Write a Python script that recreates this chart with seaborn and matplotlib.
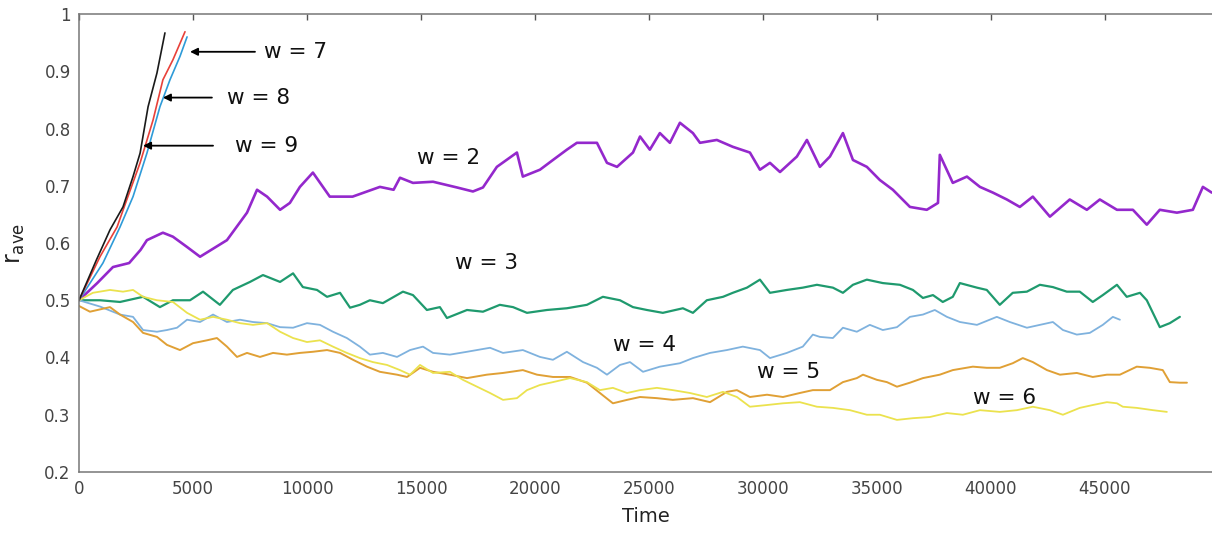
import matplotlib
matplotlib.use("Agg")
import matplotlib.pyplot as plt
import seaborn as sns
import numpy as np

# ---------------- data (time in units of 1000 steps) ----
w2_t = [0, 0.8, 1.49, 2.2, 2.7, 2.98, 3.68, 4.12, 4.74, 5.31, 6.49, 7.37, 7.81, 8.25, 8.82,
        9.25, 9.69, 10.26, 11.0, 12.0, 13.2, 13.8, 14.08, 14.65, 15.53, 16.58, 17.28, 17.72,
        18.33, 19.21, 19.47, 20.22, 20.79, 21.40, 21.84, 22.72, 23.16, 23.60, 24.30, 24.61,
        25.04, 25.48, 25.92, 26.36, 26.93, 27.24, 27.98, 28.68, 29.43, 29.87, 30.31, 30.75,
        31.49, 31.93, 32.50, 32.94, 33.51, 33.95, 34.56, 35.13, 35.70, 36.45, 37.19, 37.68,
        37.76, 38.33, 38.95, 39.52, 40.09, 40.70, 41.27, 41.84, 42.59, 43.46, 44.21, 44.78,
        45.53, 46.23, 46.84, 47.41, 48.16, 48.86, 49.30, 49.69]
w2_r = [0.50, 0.53, 0.558, 0.565, 0.588, 0.605, 0.618, 0.611, 0.593, 0.576, 0.605, 0.653,
        0.693, 0.681, 0.658, 0.670, 0.698, 0.723, 0.681, 0.681, 0.698, 0.693, 0.714, 0.705,
        0.707, 0.697, 0.690, 0.697, 0.733, 0.758, 0.716, 0.728, 0.745, 0.763, 0.775, 0.775,
        0.740, 0.733, 0.758, 0.786, 0.763, 0.792, 0.775, 0.810, 0.792, 0.775, 0.780, 0.768,
        0.758, 0.728, 0.740, 0.724, 0.751, 0.780, 0.733, 0.751, 0.792, 0.745, 0.733, 0.710,
        0.693, 0.663, 0.658, 0.670, 0.754, 0.705, 0.716, 0.698, 0.688, 0.676, 0.663, 0.681,
        0.646, 0.676, 0.658, 0.676, 0.658, 0.658, 0.632, 0.658, 0.653, 0.658, 0.698, 0.688]

w3_t = [0, 0.92, 1.80, 2.81, 3.55, 4.12, 4.87, 5.44, 6.18, 6.75, 7.50, 8.07, 8.82, 9.39, 9.82,
        10.44, 10.88, 11.45, 11.89, 12.32, 12.76, 13.33, 14.21, 14.65, 15.26, 15.83, 16.14,
        17.02, 17.72, 18.46, 19.04, 19.65, 20.53, 21.40, 22.28, 22.98, 23.73, 24.30, 24.91,
        25.61, 26.49, 26.93, 27.54, 28.25, 28.68, 29.30, 29.87, 30.31, 31.05, 31.75, 32.37,
        33.07, 33.51, 33.95, 34.56, 35.26, 36.01, 36.58, 37.02, 37.46, 37.89, 38.33, 38.64,
        39.39, 39.82, 40.39, 40.96, 41.58, 42.15, 42.72, 43.33, 43.90, 44.47, 44.91, 45.53,
        45.96, 46.54, 46.84, 47.41, 47.85, 48.29]
w3_r = [0.50, 0.50, 0.497, 0.506, 0.488, 0.50, 0.50, 0.515, 0.492, 0.518, 0.532, 0.544, 0.532,
        0.547, 0.523, 0.518, 0.506, 0.513, 0.487, 0.492, 0.50, 0.495, 0.515, 0.509, 0.483,
        0.488, 0.469, 0.483, 0.480, 0.492, 0.488, 0.478, 0.483, 0.486, 0.492, 0.506, 0.50,
        0.488, 0.483, 0.478, 0.486, 0.478, 0.50, 0.506, 0.513, 0.522, 0.536, 0.513, 0.518,
        0.522, 0.527, 0.522, 0.513, 0.527, 0.536, 0.530, 0.527, 0.518, 0.504, 0.509, 0.497,
        0.506, 0.530, 0.522, 0.518, 0.492, 0.513, 0.515, 0.527, 0.523, 0.515, 0.515, 0.497,
        0.509, 0.527, 0.506, 0.513, 0.50, 0.453, 0.460, 0.471]

w4_t = [0, 0.92, 1.80, 2.37, 2.81, 3.42, 3.86, 4.30, 4.74, 5.31, 5.88, 6.49, 7.06, 7.63, 8.25,
        8.82, 9.39, 10.0, 10.57, 11.14, 11.75, 12.32, 12.76, 13.33, 13.95, 14.52, 15.09, 15.53,
        16.27, 17.02, 18.03, 18.60, 19.47, 20.22, 20.79, 21.40, 22.11, 22.72, 23.16, 23.73,
        24.17, 24.74, 25.48, 26.36, 26.93, 27.68, 28.42, 29.12, 29.87, 30.31, 31.05, 31.75,
        32.19, 32.50, 33.07, 33.51, 34.12, 34.69, 35.26, 35.88, 36.45, 37.02, 37.54, 38.07,
        38.64, 39.39, 40.26, 40.83, 41.58, 42.15, 42.72, 43.16, 43.77, 44.34, 44.91, 45.35,
        45.66]
w4_r = [0.50, 0.489, 0.475, 0.471, 0.448, 0.445, 0.448, 0.452, 0.466, 0.462, 0.475, 0.462,
        0.466, 0.462, 0.460, 0.453, 0.452, 0.460, 0.457, 0.445, 0.434, 0.419, 0.405, 0.408,
        0.401, 0.413, 0.419, 0.408, 0.405, 0.410, 0.417, 0.408, 0.413, 0.401, 0.396, 0.410,
        0.392, 0.382, 0.370, 0.387, 0.392, 0.375, 0.384, 0.390, 0.399, 0.408, 0.413, 0.419,
        0.413, 0.399, 0.408, 0.419, 0.440, 0.436, 0.434, 0.452, 0.445, 0.457, 0.448, 0.453,
        0.471, 0.475, 0.483, 0.471, 0.462, 0.457, 0.471, 0.462, 0.452, 0.457, 0.462, 0.448,
        0.440, 0.443, 0.457, 0.471, 0.466]

w5_t = [0, 0.48, 1.36, 1.80, 2.37, 2.81, 3.42, 3.86, 4.43, 5.0, 5.61, 6.05, 6.49, 6.93, 7.37,
        7.94, 8.51, 9.12, 9.69, 10.26, 10.88, 11.45, 12.02, 12.63, 13.20, 13.95, 14.39, 14.96,
        15.53, 16.27, 17.02, 17.89, 18.60, 19.47, 20.09, 20.79, 21.54, 22.28, 22.85, 23.42,
        24.04, 24.61, 25.35, 26.05, 26.93, 27.68, 28.42, 28.86, 29.43, 30.18, 30.88, 31.62,
        32.19, 32.94, 33.51, 34.12, 34.39, 35.0, 35.44, 35.88, 36.45, 37.02, 37.76, 38.33,
        39.21, 39.82, 40.39, 40.96, 41.40, 41.84, 42.46, 43.03, 43.77, 44.47, 45.09, 45.66,
        46.40, 46.97, 47.54, 47.85, 48.29, 48.60]
w5_r = [0.49, 0.48, 0.488, 0.475, 0.462, 0.443, 0.436, 0.422, 0.413, 0.425, 0.430, 0.434,
        0.419, 0.401, 0.408, 0.401, 0.408, 0.405, 0.408, 0.410, 0.413, 0.408, 0.396, 0.384,
        0.375, 0.370, 0.366, 0.382, 0.375, 0.370, 0.364, 0.370, 0.373, 0.378, 0.370, 0.366,
        0.366, 0.356, 0.338, 0.320, 0.326, 0.331, 0.329, 0.326, 0.329, 0.322, 0.340, 0.343,
        0.331, 0.335, 0.331, 0.338, 0.343, 0.343, 0.357, 0.364, 0.370, 0.361, 0.357, 0.349,
        0.356, 0.364, 0.370, 0.378, 0.384, 0.382, 0.382, 0.390, 0.399, 0.392, 0.378, 0.370,
        0.373, 0.366, 0.370, 0.370, 0.384, 0.382, 0.378, 0.357, 0.356, 0.356]

w6_t = [0, 0.61, 1.36, 1.93, 2.37, 2.81, 3.42, 4.12, 4.74, 5.31, 5.88, 6.49, 7.06, 7.63, 8.25,
        8.82, 9.39, 10.0, 10.57, 11.14, 11.75, 12.32, 12.89, 13.51, 14.08, 14.52, 14.96, 15.53,
        16.27, 16.84, 17.46, 18.03, 18.60, 19.21, 19.65, 20.22, 20.79, 21.54, 22.28, 22.85,
        23.42, 24.04, 24.61, 25.35, 26.05, 26.80, 27.54, 28.25, 28.86, 29.43, 30.18, 30.88,
        31.62, 32.37, 33.07, 33.82, 34.56, 35.13, 35.88, 36.58, 37.32, 38.07, 38.77, 39.52,
        40.39, 41.14, 41.84, 42.59, 43.16, 43.90, 44.47, 45.09, 45.53, 45.79, 46.40, 47.11,
        47.72]
w6_r = [0.50, 0.513, 0.518, 0.515, 0.518, 0.506, 0.50, 0.497, 0.478, 0.466, 0.471, 0.466,
        0.460, 0.457, 0.460, 0.445, 0.434, 0.427, 0.430, 0.419, 0.408, 0.399, 0.392, 0.387,
        0.378, 0.370, 0.387, 0.373, 0.375, 0.361, 0.349, 0.338, 0.326, 0.329, 0.343, 0.352,
        0.357, 0.364, 0.357, 0.343, 0.347, 0.338, 0.343, 0.347, 0.343, 0.338, 0.331, 0.340,
        0.331, 0.314, 0.317, 0.320, 0.322, 0.314, 0.312, 0.308, 0.300, 0.300, 0.291, 0.294,
        0.296, 0.303, 0.300, 0.308, 0.305, 0.308, 0.314, 0.308, 0.300, 0.312, 0.317, 0.322,
        0.320, 0.314, 0.312, 0.308, 0.305]

w7_t = [0, 1.05, 1.80, 2.37, 2.98, 3.55, 3.99, 4.43, 4.74]
w7_r = [0.50, 0.565, 0.628, 0.681, 0.757, 0.838, 0.885, 0.926, 0.960]
w8_t = [0, 0.92, 1.67, 2.10, 2.68, 3.25, 3.68, 4.12, 4.65]
w8_r = [0.50, 0.576, 0.628, 0.676, 0.740, 0.815, 0.885, 0.920, 0.969]
w9_t = [0, 0.77, 1.36, 1.93, 2.37, 2.68, 3.03, 3.42, 3.77]
w9_r = [0.50, 0.571, 0.623, 0.663, 0.716, 0.757, 0.838, 0.897, 0.967]

series_names = ["w = 2", "w = 3", "w = 4", "w = 5", "w = 6", "w = 7", "w = 8", "w = 9"]
series_t = [w2_t, w3_t, w4_t, w5_t, w6_t, w7_t, w8_t, w9_t]
series_r = [w2_r, w3_r, w4_r, w5_r, w6_r, w7_r, w8_r, w9_r]
colors = ["#9428cc", "#1f9a6e", "#7fb2de", "#e0a035", "#ebe24e", "#2e9bd8", "#e8413a", "#1a1a1a"]
widths = [1.9, 1.6, 1.3, 1.4, 1.3, 1.2, 1.2, 1.2]

x_ticks = [0, 5000, 10000, 15000, 20000, 25000, 30000, 35000, 40000, 45000]
y_ticks = [0.2, 0.3, 0.4, 0.5, 0.6, 0.7, 0.8, 0.9, 1.0]
y_tick_labels = ["0.2", "0.3", "0.4", "0.5", "0.6", "0.7", "0.8", "0.9", "1"]

# ---------------- plot ----------------
sns.set_style("white")
plt.rcParams['font.family'] = ['DejaVu Sans']

fig = plt.figure(figsize=(12.12, 5.35), dpi=100)
ax = fig.add_axes([79 / 1212, 1 - 472 / 535, 1 - 79 / 1212, (472 - 14) / 535])

for t, r, c, lw in zip(series_t, series_r, colors, widths):
    sns.lineplot(x=np.array(t) * 1000, y=r, color=c, linewidth=lw, ax=ax,
                 sort=False, estimator=None)

ax.set_xlim(0, 49700)
ax.set_ylim(0.2, 1.0)
ax.set_xticks(x_ticks)
ax.set_xticklabels([str(v) for v in x_ticks])
ax.set_yticks(y_ticks)
ax.set_yticklabels(y_tick_labels)
ax.tick_params(direction='in', top=True, right=False, length=4, width=1,
               color='#555555', labelcolor='#444444', labelsize=12, pad=6)
for side in ['left', 'bottom', 'top']:
    ax.spines[side].set_color('#777777')
    ax.spines[side].set_linewidth(1.1)
ax.spines['right'].set_visible(False)

ax.set_xlabel("Time", fontsize=14, color='#222222', labelpad=6)
ax.set_ylabel(r"r$_{\mathrm{ave}}$", fontsize=17, color='#222222', rotation=90)
ax.yaxis.set_label_coords(-0.046, 0.5)

# annotations
txt_kw = dict(fontsize=15.5, color='#111111', va='center', ha='left')
ax.text(8110, 0.934, "w = 7", **txt_kw)
ax.text(6490, 0.854, "w = 8", **txt_kw)
ax.text(6840, 0.770, "w = 9", **txt_kw)
ax.text(14820, 0.749, "w = 2", **txt_kw)
ax.text(16490, 0.565, "w = 3", **txt_kw)
ax.text(23420, 0.422, "w = 4", **txt_kw)
ax.text(29740, 0.375, "w = 5", **txt_kw)
ax.text(39210, 0.329, "w = 6", **txt_kw)

arrow_kw = dict(arrowstyle='-|>', color='black', lw=1.3, mutation_scale=11,
                shrinkA=0, shrinkB=0)
ax.annotate("", xy=(4870, 0.934), xytext=(7720, 0.934), arrowprops=arrow_kw)
ax.annotate("", xy=(3680, 0.854), xytext=(5830, 0.854), arrowprops=arrow_kw)
ax.annotate("", xy=(2810, 0.770), xytext=(5880, 0.770), arrowprops=arrow_kw)

fig.savefig("out.png", dpi=100)
